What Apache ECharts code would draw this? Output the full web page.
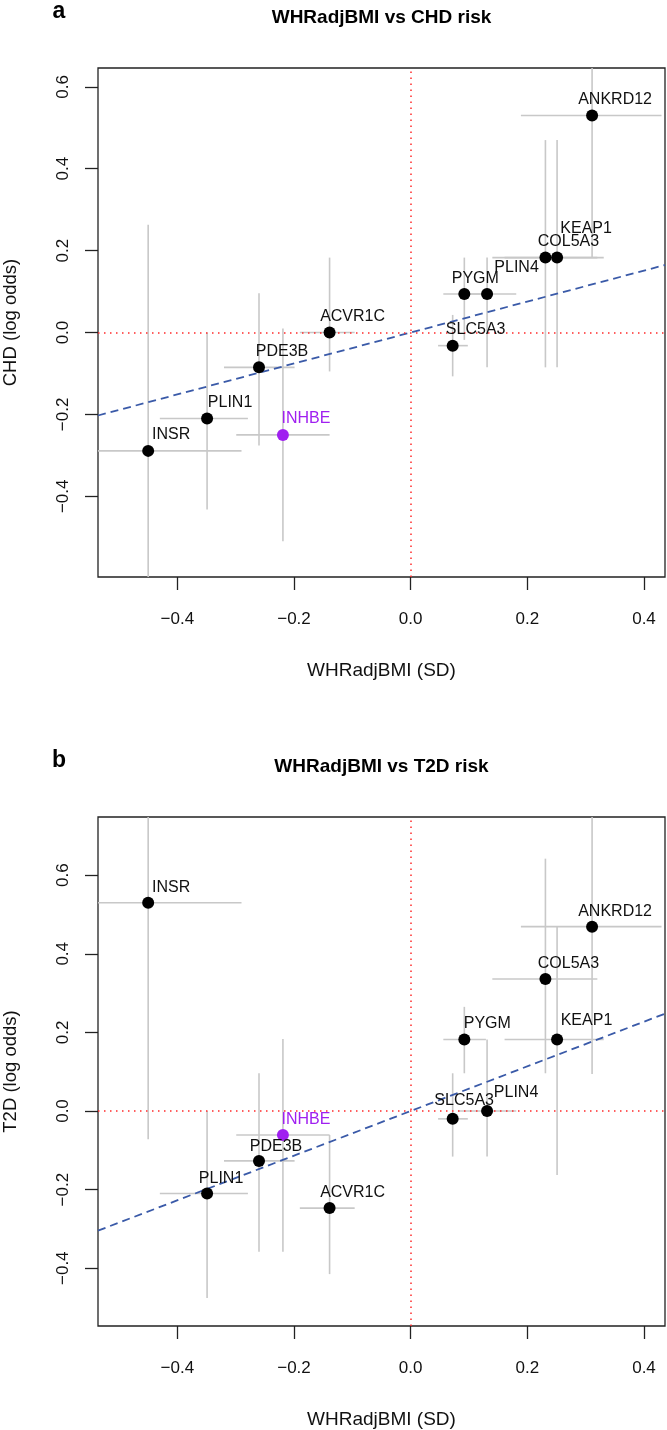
<!DOCTYPE html>
<html>
<head>
<meta charset="utf-8">
<script src="https://cdn.jsdelivr.net/npm/echarts@6/dist/echarts.min.js"></script>
<style>
html,body{margin:0;padding:0;background:#fff;}
#chart{width:667px;height:1430px;}
</style>
</head>
<body>
<div id="chart"></div>
<script>
// ---------- data ----------
const genes  = ['ANKRD12','KEAP1','COL5A3','PLIN4','PYGM','SLC5A3','ACVR1C','PDE3B','PLIN1','INHBE','INSR'];
const whr    = [0.311, 0.251, 0.231, 0.131, 0.092, 0.072, -0.139, -0.260, -0.349, -0.219, -0.450];
const whrLo  = [0.189, 0.161, 0.140, 0.081, 0.056, 0.047, -0.190, -0.320, -0.430, -0.299, -0.610];
const whrHi  = [0.430, 0.331, 0.320, 0.181, 0.129, 0.098, -0.096, -0.199, -0.279, -0.139, -0.290];
const chd    = [0.530, 0.183, 0.183, 0.094, 0.094, -0.032, 0.000, -0.085, -0.210, -0.250, -0.289];
const chdLo  = [0.183, -0.085, -0.085, -0.085, -0.018, -0.107, -0.095, -0.276, -0.432, -0.510, -0.840];
const chdHi  = [0.880, 0.470, 0.470, 0.183, 0.183, 0.043, 0.183, 0.096, 0.000, 0.010, 0.263];
const t2d    = [0.469, 0.182, 0.336, 0.000, 0.182, -0.020, -0.247, -0.127, -0.210, -0.061, 0.530];
const t2dLo  = [0.094, -0.163, 0.096, -0.116, 0.096, -0.116, -0.415, -0.358, -0.476, -0.358, -0.072];
const t2dHi  = [0.850, 0.469, 0.642, 0.182, 0.265, 0.096, -0.061, 0.096, 0.000, 0.183, 1.130];
const slopes = [0.378, 0.568];               // IVW slopes (through origin)
const xTicks = [-0.4, -0.2, 0.0, 0.2, 0.4];
const yTicks = [-0.4, -0.2, 0.0, 0.2, 0.4, 0.6];
const highlight = 'INHBE';
const titles  = ['WHRadjBMI vs CHD risk', 'WHRadjBMI vs T2D risk'];
const letters = ['a', 'b'];
const yNames  = ['CHD (log odds)', 'T2D (log odds)'];
const xName   = 'WHRadjBMI (SD)';

// ---------- layout / style ----------
const FONT = "'Liberation Sans', Arial, Helvetica, sans-serif";
const X_MIN = -0.536, X_MAX = 0.436;
const yRange = [[-0.597, 0.646], [-0.547, 0.748]];
const grids = [{left: 98, top: 68, width: 567, height: 509},
               {left: 98, top: 817, width: 567, height: 509}];
const labelNudge = [
  {_: [23, -16], KEAP1: [29, -29.5], PLIN4: [29.5, -26.5], PYGM: [11, -15]},
  {_: [23, -15.5], KEAP1: [29.4, -19], PLIN4: [29, -18.7], SLC5A3: [11.5, -18], PDE3B: [17, -14], PLIN1: [14, -15.3]}
];
const fmt = v => (v < 0 ? '\u2212' : '') + Math.abs(v).toFixed(1);

const ys = [[chd, chdLo, chdHi], [t2d, t2dLo, t2dHi]];

const option = {
  animation: false,
  backgroundColor: '#fff',
  grid: grids.map(g => Object.assign({show: true, borderColor: '#222', borderWidth: 1.3, backgroundColor: 'transparent', containLabel: false, outerBoundsMode: 'none'}, g)),
  xAxis: grids.map((g, i) => ({
    type: 'value', gridIndex: i, min: X_MIN, max: X_MAX, position: 'bottom',
    splitLine: {show: false}, axisLine: {show: false, onZero: false},
    axisTick: {show: true, length: 13, lineStyle: {color: '#222', width: 1.3}, customValues: xTicks},
    axisLabel: {customValues: xTicks, formatter: fmt, fontSize: 17, color: '#111', fontFamily: FONT, margin: 34},
    name: xName, nameLocation: 'middle', nameGap: 84,
    nameTextStyle: {fontSize: 19, color: '#111', fontFamily: FONT}
  })),
  yAxis: grids.map((g, i) => ({
    type: 'value', gridIndex: i, min: yRange[i][0], max: yRange[i][1], position: 'left',
    splitLine: {show: false}, axisLine: {show: false, onZero: false},
    axisTick: {show: true, length: 13, lineStyle: {color: '#222', width: 1.3}, customValues: yTicks},
    axisLabel: {customValues: yTicks, formatter: fmt, fontSize: 17, color: '#111', fontFamily: FONT, rotate: 90, margin: 26},
    name: yNames[i], nameLocation: 'middle', nameGap: 78,
    nameTextStyle: {fontSize: 18.5, color: '#111', fontFamily: FONT}
  })),
  graphic: [],
  series: []
};

grids.forEach((g, i) => {
  const cx = g.left + g.width / 2;
  option.graphic.push({type: 'text', x: cx, y: g.top - 50, style: {text: titles[i], font: "bold 19px " + FONT, fill: '#000', textAlign: 'center', textVerticalAlign: 'middle'}});
  option.graphic.push({type: 'text', x: 59, y: g.top - 56, style: {text: letters[i], font: "bold 23px " + FONT, fill: '#000', textAlign: 'center', textVerticalAlign: 'middle'}});

  const [yv, yLo, yHi] = ys[i];
  const rows = genes.map((n, k) => [whr[k], yv[k], whrLo[k], whrHi[k], yLo[k], yHi[k]]);

  // error bars
  option.series.push({
    type: 'custom', xAxisIndex: i, yAxisIndex: i, clip: true, silent: true, z: 1,
    data: rows,
    encode: {x: 0, y: 1},
    renderItem: function (params, api) {
      const x = api.value(0), y = api.value(1);
      const a = api.coord([api.value(2), y]), b = api.coord([api.value(3), y]);
      const c = api.coord([x, api.value(4)]), d = api.coord([x, api.value(5)]);
      const st = {stroke: '#c8c8c8', lineWidth: 1.6};
      return {type: 'group', children: [
        {type: 'line', shape: {x1: a[0], y1: a[1], x2: b[0], y2: b[1]}, style: st},
        {type: 'line', shape: {x1: c[0], y1: c[1], x2: d[0], y2: d[1]}, style: st}
      ]};
    }
  });

  // reference lines at zero
  option.series.push({
    type: 'line', xAxisIndex: i, yAxisIndex: i, data: [], z: 2, silent: true,
    markLine: {silent: true, symbol: 'none', label: {show: false},
      lineStyle: {color: '#ff2a2a', width: 1.5, type: [1.5, 4.5]},
      data: [{xAxis: 0}, {yAxis: 0}]}
  });

  // regression line
  option.series.push({
    type: 'line', xAxisIndex: i, yAxisIndex: i, z: 3, silent: true, showSymbol: false, clip: true,
    data: [[X_MIN, slopes[i] * X_MIN], [X_MAX, slopes[i] * X_MAX]],
    lineStyle: {color: '#3a5aa8', width: 1.8, type: [8, 5]}
  });

  // points + labels
  const nud = labelNudge[i];
  option.series.push({
    type: 'scatter', xAxisIndex: i, yAxisIndex: i, z: 5, symbolSize: 12,
    itemStyle: {color: '#000', opacity: 1},
    label: {show: true, position: 'inside', formatter: p => p.data.name, fontSize: 16, color: '#111', fontFamily: FONT, align: 'center', verticalAlign: 'middle'},
    data: genes.map((n, k) => {
      const isH = n === highlight;
      return {
        name: n, value: [whr[k], yv[k]],
        itemStyle: {color: isH ? '#a020f0' : '#000'},
        label: {offset: nud[n] || nud._, color: isH ? '#a020f0' : '#111'}
      };
    })
  });
});

const chart = echarts.init(document.getElementById('chart'), null, {renderer: 'canvas'});
chart.setOption(option);
</script>
</body>
</html>
